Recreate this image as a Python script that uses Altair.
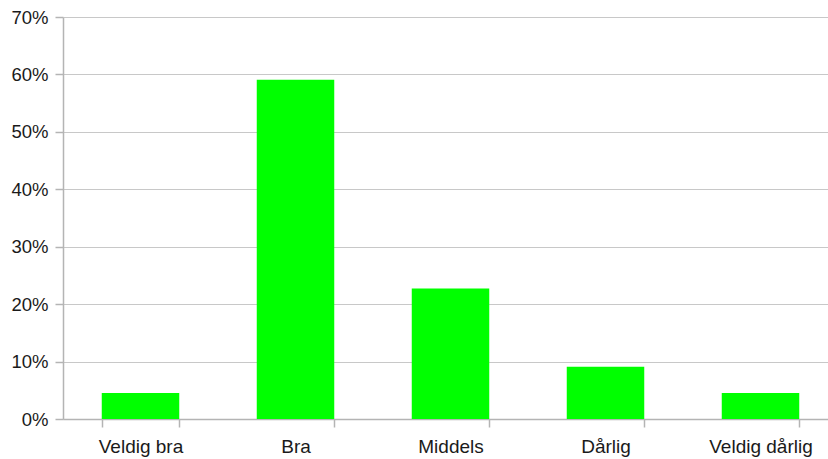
import altair as alt
import pandas as pd

# Answer categories and their share of responses (counts out of 22)
categories = ["Veldig bra", "Bra", "Middels", "Dårlig", "Veldig dårlig"]
shares = [1 / 22, 13 / 22, 5 / 22, 2 / 22, 1 / 22]
y_ticks = [0, 0.1, 0.2, 0.3, 0.4, 0.5, 0.6, 0.7]

df = pd.DataFrame({"kategori": categories, "andel": shares})

FONT = "Liberation Sans"
AXIS_GRAY = "#b4b4b4"
GRID_GRAY = "#c8c8c8"

bars = alt.Chart(df).mark_bar(color="#00ff00").encode(
    x=alt.X(
        "kategori:N",
        sort=categories,
        scale=alt.Scale(range=[0, 775], paddingInner=0.5, paddingOuter=0.25),
        axis=alt.Axis(
            title=None,
            labelAngle=0,
            tickBand="extent",
            grid=False,
            domainColor=AXIS_GRAY,
            domainWidth=1.5,
            tickColor=AXIS_GRAY,
            tickSize=8,
            tickWidth=1.5,
            labelFont=FONT,
            labelFontSize=19,
            labelColor="#1a1a1a",
            labelPadding=10,
        ),
    ),
    y=alt.Y(
        "andel:Q",
        scale=alt.Scale(domain=[0, 0.7], nice=False),
        axis=alt.Axis(
            title=None,
            values=y_ticks,
            format=".0%",
            grid=True,
            gridColor=GRID_GRAY,
            gridWidth=1.2,
            domainColor=AXIS_GRAY,
            domainWidth=1.5,
            tickColor=AXIS_GRAY,
            tickSize=8,
            tickWidth=1.5,
            labelFont=FONT,
            labelFontSize=18.5,
            labelColor="#1a1a1a",
            labelPadding=7,
        ),
    ),
)

chart = bars.properties(
    width=765,
    height=402,
    autosize=alt.AutoSizeParams(type="none"),
    padding={"left": 63, "top": 17, "right": 0, "bottom": 40},
    background="white",
).configure_view(stroke=None)

chart.save("out.html", embed_options={"renderer": "svg", "actions": False})
